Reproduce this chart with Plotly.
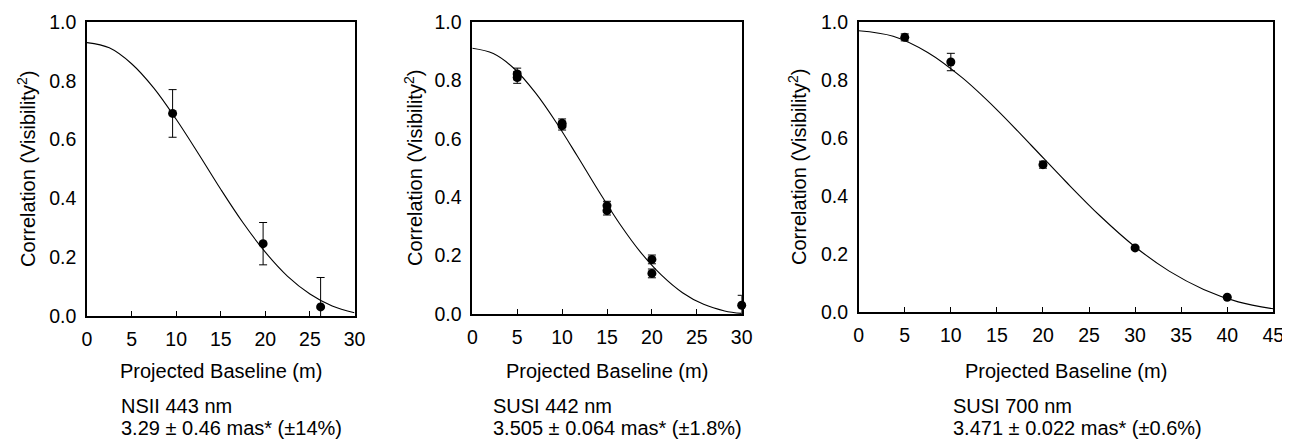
import plotly.graph_objects as go

# ---------------- data ----------------
# Panel 1: NSII 443 nm
p1_x = [9.6, 19.75, 26.2]
p1_y = [0.689, 0.246, 0.031]
p1_err = [0.081, 0.072, 0.100]
p1_curve_x = [0, 2.5, 5, 7.5, 10, 12.5, 15, 17.5, 20, 22.5, 25, 27.5, 30]
p1_curve_y = [0.93, 0.912, 0.858, 0.775, 0.669, 0.552, 0.431, 0.317, 0.217, 0.135, 0.075, 0.034, 0.011]

# Panel 2: SUSI 442 nm
p2_x = [5, 5, 10, 10, 15, 15, 20, 20, 30]
p2_y = [0.822, 0.810, 0.653, 0.645, 0.371, 0.354, 0.187, 0.139, 0.030]
p2_err = [0.020, 0.020, 0.015, 0.015, 0.015, 0.015, 0.015, 0.015, 0.034]
p2_curve_x = [0, 2.34, 4.68, 7.02, 9.37, 11.71, 14.05, 16.39, 18.73, 21.07, 23.41, 25.76, 28.10, 30]
p2_curve_y = [0.91, 0.892, 0.840, 0.758, 0.655, 0.540, 0.422, 0.310, 0.212, 0.133, 0.073, 0.033, 0.0105, 0.002]

# Panel 3: SUSI 700 nm
p3_x = [5, 10, 20, 30, 40]
p3_y = [0.947, 0.862, 0.508, 0.221, 0.051]
p3_err = [0.012, 0.030, 0.012, 0.005, 0.003]
p3_curve_x = [0, 3.74, 7.49, 11.23, 14.98, 18.72, 22.47, 26.21, 29.95, 33.70, 37.44, 41.19, 45]
p3_curve_y = [0.97, 0.951, 0.895, 0.808, 0.698, 0.575, 0.450, 0.331, 0.226, 0.141, 0.078, 0.035, 0.011]

x_ranges = [30, 30, 45]
y_ticks = [0.0, 0.2, 0.4, 0.6, 0.8, 1.0]
y_tick_labels = ["0.0", "0.2", "0.4", "0.6", "0.8", "1.0"]
x_title = "Projected Baseline (m)"
y_title = "Correlation (Visibility<sup>2</sup>)"
caption_line1 = ["NSII 443 nm", "SUSI 442 nm", "SUSI 700 nm"]
caption_line2 = ["3.29 ± 0.46 mas* (±14%)", "3.505 ± 0.064 mas* (±1.8%)", "3.471 ± 0.022 mas* (±0.6%)"]

# ---------------- layout geometry (target pixels in the 1290x439 window) ----------------
OFF = 8  # page body margin offset
W, H = 1290 - OFF, 439 - OFF
panels_px = [
    (87, 354.5, 22, 316),
    (472.3, 741.7, 22, 314),
    (858.7, 1273.3, 22, 312),
]
ytitle_x_px = [27, 413, 797]
caption_x_px = [119, 490.7, 950.7]
xtitle_y_px = 371
cap1_y_px = 405.5
cap2_y_px = 427.5


def px(v):
    return (v - OFF) / W


def py(v):
    return 1 - (v - OFF) / H


FONT = "Liberation Sans, Arial, Helvetica, sans-serif"
FS = 20
FT = 19.5

fig = go.Figure()
datasets = [
    (p1_x, p1_y, p1_err, p1_curve_x, p1_curve_y),
    (p2_x, p2_y, p2_err, p2_curve_x, p2_curve_y),
    (p3_x, p3_y, p3_err, p3_curve_x, p3_curve_y),
]

for i, (xs, ys, es, cx, cy) in enumerate(datasets):
    ax = "" if i == 0 else str(i + 1)
    fig.add_trace(go.Scatter(
        x=cx, y=cy, mode="lines", line=dict(color="black", width=1.1, shape="spline"),
        xaxis="x" + ax, yaxis="y" + ax, showlegend=False, hoverinfo="skip",
    ))
    fig.add_trace(go.Scatter(
        x=xs, y=ys, mode="markers",
        marker=dict(color="black", size=9),
        error_y=dict(type="data", array=es, visible=True, color="black", thickness=1, width=4),
        xaxis="x" + ax, yaxis="y" + ax, showlegend=False, cliponaxis=False,
    ))

    x0, x1, yt, yb = panels_px[i]
    fig.layout["xaxis" + ax] = dict(
        domain=[px(x0), px(x1)], range=[0, x_ranges[i]], dtick=5, ticks="inside", ticklen=5,
        tickwidth=1, tickcolor="black", showline=True, linecolor="black", linewidth=1.6,
        mirror=True, showgrid=False, zeroline=False, anchor="y" + ax, automargin=False,
        ticklabelstandoff=5,
        tickfont=dict(family=FONT, size=FT, color="black"),
    )
    fig.layout["yaxis" + ax] = dict(
        domain=[py(yb), py(yt)], range=[0, 1.0], tickvals=y_ticks, ticktext=y_tick_labels,
        ticks="", showline=True, linecolor="black", linewidth=1.6, mirror=True,
        showgrid=False, zeroline=False, anchor="x" + ax, automargin=False,
        ticklabelstandoff=5,
        tickfont=dict(family=FONT, size=FT, color="black"),
    )

    fig.add_annotation(
        text=y_title, textangle=-90,
        x=px(ytitle_x_px[i]), y=py((yt + yb) / 2), xref="paper", yref="paper",
        showarrow=False, xanchor="center", yanchor="middle",
        font=dict(family=FONT, size=FS, color="black"),
    )
    fig.add_annotation(
        text=x_title,
        x=px((x0 + x1) / 2), y=py(xtitle_y_px), xref="paper", yref="paper",
        showarrow=False, xanchor="center", yanchor="middle",
        font=dict(family=FONT, size=FS, color="black"),
    )
    fig.add_annotation(
        text=caption_line1[i],
        x=px(caption_x_px[i]), y=py(cap1_y_px), xref="paper", yref="paper",
        showarrow=False, xanchor="left", yanchor="middle", align="left",
        font=dict(family=FONT, size=FS, color="black"),
    )
    fig.add_annotation(
        text=caption_line2[i],
        x=px(caption_x_px[i]), y=py(cap2_y_px), xref="paper", yref="paper",
        showarrow=False, xanchor="left", yanchor="middle", align="left",
        font=dict(family=FONT, size=FS, color="black"),
    )

fig.update_layout(
    width=W, height=H, margin=dict(l=0, r=0, t=0, b=0),
    paper_bgcolor="white", plot_bgcolor="white",
    font=dict(family=FONT, size=FS, color="black"),
)

fig.write_html("out.html")
